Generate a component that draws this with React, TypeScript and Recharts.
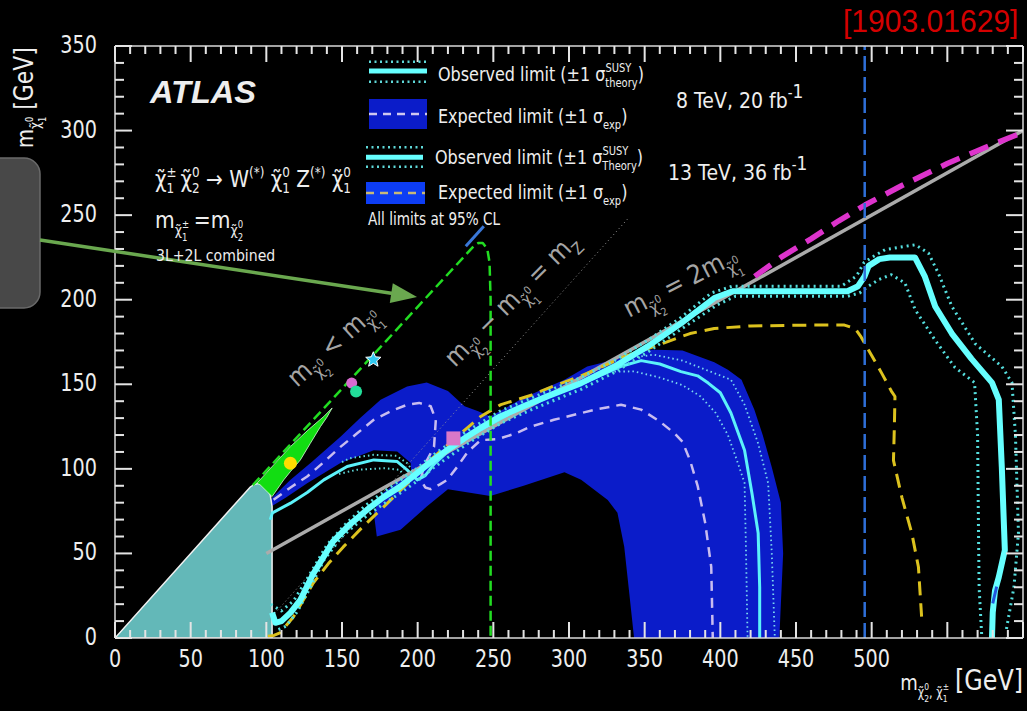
import React from 'react';
import { ComposedChart, XAxis, YAxis, Area, Line, Scatter } from 'recharts';

// axis ticks [GeV]
const xLabelTicks = [0, 50, 100, 150, 200, 250, 300, 350, 400, 450, 500];
const xMajorTicks = [0, 50, 100, 150, 200, 250, 300, 350, 400, 450, 500, 550, 600];
const xMinorTicks = [
  0, 10, 20, 30, 40, 50, 60, 70, 80, 90, 100, 110, 120, 130, 140, 150, 160, 170, 180, 190, 200,
  210, 220, 230, 240, 250, 260, 270, 280, 290, 300, 310, 320, 330, 340, 350, 360, 370, 380, 390,
  400, 410, 420, 430, 440, 450, 460, 470, 480, 490, 500, 510, 520, 530, 540, 550, 560, 570, 580,
  590, 600,
];
const yLabelTicks = [0, 50, 100, 150, 200, 250, 300, 350];
const yMinorTicks = [
  0, 10, 20, 30, 40, 50, 60, 70, 80, 90, 100, 110, 120, 130, 140, 150, 160, 170, 180, 190, 200,
  210, 220, 230, 240, 250, 260, 270, 280, 290, 300, 310, 320, 330, 340, 350,
];

// filled regions, points are [m(chi2/chi1+), m(chi1)]
const lepRegion = [
  [0, 0], [89.4, 89.3], [92, 90.8], [95, 91.5], [98.2, 89.5], [101, 87.5], [102.6, 84.6],
  [103.8, 77.7], [103.8, 0], [0, 0],
];
const greenRegion = [
  [103.8, 83.6], [96, 90.5], [93.8, 91.5], [105, 102.5], [116, 113.2], [127, 122.5], [138, 131],
  [143.5, 136], [140, 130.5], [135.8, 125], [129, 115], [122.5, 105.3], [116, 98.5], [111.5, 93.5],
  [103.8, 83.6],
];
const band8 = [
  [439, 0], [441.5, 50], [440, 80], [434, 101], [428, 120], [422.5, 135], [414, 152.7], [405, 158.6],
  [396, 163], [375, 170], [352, 170.5], [330, 164.5], [312, 160.5], [297, 152.7], [270, 142],
  [248, 131], [240, 134], [231, 137], [220, 146], [206, 151], [193, 148.7], [175.5, 140.8],
  [162, 130], [149, 119], [130, 104], [116, 93.5], [104, 83], [100, 76], [113, 83], [127, 91.5],
  [149, 103.4], [171, 111], [186.5, 110.3], [195.4, 103.4], [195.8, 97.4], [186, 92], [176, 85],
  [171, 74], [173, 60], [188.7, 64], [206, 77.7], [220, 88], [248, 84], [270, 90], [297, 98],
  [308, 93.5], [325.6, 81.6], [332, 74], [336.5, 54], [340, 25], [343, 0], [439, 0],
];

// 13 TeV contours
const obs13 = [
  [103.8, 15], [106, 9], [110, 10], [116, 15], [122.5, 22.5], [131, 38], [144, 57], [155, 67],
  [166.4, 75.7], [177, 83], [188.4, 89.5], [199, 97], [210.4, 105.3], [221, 112], [232.5, 119],
  [243, 125], [254.5, 131], [270, 137], [286, 143], [308, 150.7], [330, 160.5], [352, 172.4],
  [374, 186], [396, 201], [408, 205], [440, 205], [484, 205], [491, 208], [495.4, 214], [498, 220],
  [505, 224], [512, 225], [528.6, 225], [535, 214], [542, 196], [553, 180], [566, 165],
  [579.5, 151], [584, 141], [586, 101], [588, 52], [584, 36], [581.5, 28], [580, 15], [579.5, 0],
];
const obs13Up = [
  [103, 20], [110, 16], [118, 22], [127, 35], [140, 55], [152, 67], [165, 78], [177, 86], [188, 93],
  [199, 100], [210, 108], [221, 115], [232, 122], [243, 128], [254, 134], [270, 140], [286, 146],
  [308, 154], [330, 164], [352, 176], [374, 189.5], [394, 204], [408, 208], [440, 208], [480, 208],
  [490, 214], [495, 222], [500, 225], [508.8, 229.6], [528.8, 232.5], [537.5, 227.6], [544, 215.8],
  [553, 196], [568.4, 174], [586, 160.5], [592.7, 151], [595, 120], [597, 62], [594, 30], [589, 5],
];
const obs13Down = [
  [108, 5], [113, 7], [120, 15], [128, 28], [138, 46], [150, 60], [163, 70], [177, 79], [189, 86],
  [200, 93], [211, 101], [222, 108], [233, 115], [244, 121], [255, 127], [270, 133], [286, 139],
  [308, 147], [330, 157], [352, 169], [374, 182.5], [398, 197], [410, 202], [440, 202], [484, 202],
  [492, 204], [497.8, 208], [505, 212], [513, 214.8], [522, 209.9], [528.8, 194], [542, 176],
  [555, 160], [568, 151], [570, 120], [570.6, 62], [571, 30], [572.8, 0],
];
const exp13 = [
  [101, 1], [105, 1.5], [109, 3], [118, 12.6], [131, 32.5], [141, 44], [151, 54], [164, 66],
  [177.7, 77.7], [194, 92], [210.6, 107], [226, 119], [241.7, 131], [255, 138], [275, 143.5],
  [290, 149], [308, 155], [321, 160], [337, 166.5], [363, 174.5], [380, 180], [396, 183],
  [420, 184.5], [460, 185], [482, 185], [489, 183], [493, 178], [500, 167], [506.6, 156.6],
  [513, 146], [515.4, 142.8], [515, 125], [514.4, 105], [520, 83], [526.5, 62], [530.9, 42],
  [533, 12.6],
];

// 8 TeV contours
const obs8 = [
  [102.6, 70], [104, 74], [116, 79.7], [127, 86], [138, 93.5], [153.4, 101.4], [171, 105.3],
  [186.5, 104.3], [193, 99.4], [199.7, 93.5], [205, 96], [211, 103], [221, 111], [233, 118],
  [248, 126], [270, 136], [290, 144], [310, 151], [334, 160.5], [347.7, 164], [360, 162],
  [374, 157.5], [385, 155], [392, 150.7], [400, 145], [407, 133], [416, 111], [421, 85], [425, 62],
  [426, 30], [426, 0],
];
const obs8UpLeft = [[150, 104], [155.3, 106.3], [171, 108.3], [186, 107.7], [193, 103.4], [199, 96]];
const obs8DownLeft = [[148, 97], [160, 99.5], [177.7, 100.4], [188.4, 99.4], [191, 95.4], [195, 91]];
const obs8UpRight = [
  [336, 165], [356, 167.5], [375, 164], [392, 158], [407, 152.7], [416, 138], [425, 115],
  [431.6, 91.5], [434, 50], [436, 0],
];
const obs8DownRight = [
  [330, 157.5], [343, 157.6], [360, 154], [375, 149.5], [387, 142.8], [397, 133], [405, 120],
  [411, 105], [416, 91.7], [417, 50], [418, 0],
];
const exp8 = [
  [104.8, 81.7], [116, 89], [127, 95.5], [138, 104], [149, 113], [160, 121], [171, 129], [182, 134],
  [193, 137.9], [201, 139], [208.6, 137], [212, 129], [210.8, 113], [204, 101.4], [202, 93.5],
  [205, 89], [208.6, 88], [215, 91], [219.6, 93.5], [226, 101], [233, 110], [241.7, 117],
  [252.7, 117.5], [265, 121], [274.8, 125], [290, 129], [308, 133], [320, 135.5], [334.4, 137.9],
  [347.7, 135], [360, 128], [369.7, 121], [375, 116], [380, 105], [385, 90], [390, 68], [394, 42],
  [395, 0],
];

// kinematic / reference lines
const greenLimit = [
  [91, 90.3], [237, 231.6], [240, 233.5], [243, 233.5], [246, 230], [247.5, 222], [248.2, 200],
  [248.2, 0],
];
const halfLine = [[100, 50], [600, 300]];
const mzLine = [[95, 4], [339, 248]];
const magentaLimit = [
  [422.7, 213.8], [440, 225], [460, 236], [478, 246.5], [495.6, 256], [520, 267.5], [550, 280.5],
  [575, 290], [600, 299],
];
const blueVertical = [[495.4, 0], [495.4, 350]];
const blueTick1 = [[231.8, 231.6], [243.7, 243.4]];
const blueTick2 = [[580, 20.5], [582.6, 30.4]];

// other results
const starPt = [[170.7, 164.5]];
const magentaPt = [[156.4, 150.7]];
const tealPt = [[159.3, 145.7]];
const yellowPt = [[115.9, 103.3]];
const pinkPt = [[223.6, 118]];

const toPts = (a: number[][]) => a.map(([x, y]) => ({ x, y }));

// plot frame in pixels (matches the chart margins / axis sizes below)
const PLOT = { left: 115, right: 1023, top: 46, bottom: 638 };
const px = (x: number) => PLOT.left + ((PLOT.right - PLOT.left) * x) / 600;
const py = (y: number) => PLOT.bottom - ((PLOT.bottom - PLOT.top) * y) / 350;

const FRAME = '#d8d8d8';
const CHI = '\u03c7\u0303';
const W: Record<string, number> = { '0': 0.636, '1': 0.636, '2': 0.636, '±': 0.838 };

type Seg = [string, number, number, number?];

function Rich({ x, y, size, segs, rot = 0, sx = 0.8, fill = '#eeeeee', family = 'DejaVu Sans', weight = 'normal', italic = false, anchor = 'start' }: any) {
  let cur = 0;
  return (
    <g transform={`translate(${x} ${y}) rotate(${rot}) scale(${sx} 1)`}>
      <text
        x={0}
        y={0}
        fill={fill}
        fontSize={size}
        fontFamily={family}
        fontWeight={weight}
        fontStyle={italic ? 'italic' : 'normal'}
        textAnchor={anchor}
        xmlSpace="preserve"
        style={{ whiteSpace: 'pre' }}
      >
        {segs.map((s: Seg, i: number) => {
          const off = s[1] * size;
          const dy = off - cur;
          cur = off;
          return (
            <tspan key={i} dy={dy} dx={(s[3] || 0) * size} fontSize={s[2] * size}>
              {s[0]}
            </tspan>
          );
        })}
      </text>
    </g>
  );
}

const chi = (sup: string, sub: string): Seg[] => [
  [CHI, 0, 1],
  [sup, -0.42, 0.6],
  [sub, 0.28, 0.6, -W[sup] * 0.6],
];
const subChi = (sup: string, sub: string): Seg[] => [
  [CHI, 0.3, 0.62],
  [sup, 0.0, 0.42],
  [sub, 0.55, 0.42, -W[sup] * 0.42],
];

const XTick = (p: any) => (
  <g transform={`translate(${p.x} ${p.y + 29}) scale(0.8 1)`}>
    <text textAnchor="middle" fill="#eeeeee" fontSize={24} fontFamily="DejaVu Sans">
      {p.payload.value}
    </text>
  </g>
);
const YTick = (p: any) => (
  <g transform={`translate(${p.x - 18} ${p.y + 7}) scale(0.8 1)`}>
    <text textAnchor="end" fill="#eeeeee" fontSize={24} fontFamily="DejaVu Sans">
      {p.payload.value}
    </text>
  </g>
);

// ROOT style tick marks, inside the frame on all four sides
function FrameTicks() {
  const t = 2;
  const out: any[] = [];
  xMinorTicks.forEach((v) => {
    const l = xMajorTicks.includes(v) ? 16 : 8;
    const x = px(v) - t / 2;
    out.push(<rect key={`b${v}`} x={x} y={PLOT.bottom - l} width={t} height={l} fill="#e4e4e4" />);
    out.push(<rect key={`t${v}`} x={x} y={PLOT.top} width={t} height={l} fill="#e4e4e4" />);
  });
  yMinorTicks.forEach((v) => {
    const l = yLabelTicks.includes(v) ? 17 : 9;
    const y = py(v) - t / 2;
    out.push(<rect key={`l${v}`} x={PLOT.left} y={y} width={l} height={t} fill="#e4e4e4" />);
    out.push(<rect key={`r${v}`} x={PLOT.right - l} y={y} width={l} height={t} fill="#e4e4e4" />);
  });
  return <g>{out}</g>;
}

const circleShape = (fill: string, r: number) => (p: any) => (
  <circle cx={p.cx} cy={p.cy} r={r} fill={fill} />
);
const squareShape = (p: any) => (
  <rect x={p.cx - 7} y={p.cy - 7} width={14} height={14} fill="#d978c8" />
);
const starShape = (p: any) => {
  const pts: string[] = [];
  for (let i = 0; i < 10; i++) {
    const r = i % 2 === 0 ? 8 : 3.6;
    const a = -Math.PI / 2 + (i * Math.PI) / 5;
    pts.push(`${p.cx + r * Math.cos(a)},${p.cy + r * Math.sin(a)}`);
  }
  return <polygon points={pts.join(' ')} fill="#2ec8f0" stroke="#ffffff" strokeWidth={1} />;
};

const ax = { xAxisId: 'x', yAxisId: 'y', isAnimationActive: false } as const;

function Contour({ data, stroke, width, dash }: any) {
  return (
    <Line
      {...ax}
      data={toPts(data)}
      dataKey="y"
      type="linear"
      stroke={stroke}
      strokeWidth={width}
      strokeDasharray={dash}
      strokeLinejoin="round"
      dot={false}
      activeDot={false}
      legendType="none"
    />
  );
}

export default function App() {
  const frame = { stroke: FRAME, strokeWidth: 1.5 };
  return (
    <div style={{ position: 'absolute', left: 0, top: 0, width: 1027, height: 711, background: '#000', overflow: 'hidden' }}>
      <ComposedChart width={1027} height={711} margin={{ top: 16, right: 0, bottom: 0, left: 0 }}>
        <XAxis xAxisId="x" type="number" dataKey="x" domain={[0, 600]} allowDataOverflow ticks={xLabelTicks} interval={0} height={73} tickSize={0} tickMargin={0} tickLine={false} axisLine={frame} tick={XTick} />
        <XAxis xAxisId="xt" orientation="top" type="number" domain={[0, 600]} allowDataOverflow ticks={xMajorTicks} interval={0} height={30} tick={false} tickLine={false} axisLine={frame} />
        <YAxis yAxisId="y" type="number" dataKey="y" domain={[0, 350]} allowDataOverflow ticks={yLabelTicks} interval={0} width={115} tickSize={0} tickMargin={0} tickLine={false} axisLine={frame} tick={YTick} />
        <YAxis yAxisId="yr" orientation="right" type="number" domain={[0, 350]} allowDataOverflow ticks={yLabelTicks} interval={0} width={4} tick={false} tickLine={false} axisLine={frame} />

        <Area {...ax} data={toPts(band8)} dataKey="y" type="linear" fill="#0b1cc9" fillOpacity={1} stroke="none" dot={false} activeDot={false} />
        <Area {...ax} data={toPts(lepRegion)} dataKey="y" type="linear" fill="#63b8b8" fillOpacity={1} stroke="#f0f0f0" strokeWidth={1.5} dot={false} activeDot={false} />
        <Area {...ax} data={toPts(greenRegion)} dataKey="y" type="linear" fill="#12dd12" fillOpacity={1} stroke="#d0ffd0" strokeWidth={0.8} dot={false} activeDot={false} />

        {Contour({ data: mzLine, stroke: '#9a9a9a', width: 1, dash: '1 3' })}
        {Contour({ data: obs8UpLeft, stroke: '#5fd8d8', width: 2, dash: '1.5 3' })}
        {Contour({ data: obs8DownLeft, stroke: '#5fd8d8', width: 2, dash: '1.5 3' })}
        {Contour({ data: obs8UpRight, stroke: '#7ad8f0', width: 1.8, dash: '1.5 3' })}
        {Contour({ data: obs8DownRight, stroke: '#7ad8f0', width: 1.8, dash: '1.5 3' })}
        {Contour({ data: exp8, stroke: '#c8bcf0', width: 2.5, dash: '10 7' })}
        {Contour({ data: obs8, stroke: '#5cf2fa', width: 3 })}
        {Contour({ data: halfLine, stroke: '#ababab', width: 3.5 })}
        {Contour({ data: exp13, stroke: '#dcc21e', width: 3, dash: '14 8' })}
        {Contour({ data: obs13Up, stroke: '#55dede', width: 3, dash: '2 4' })}
        {Contour({ data: obs13Down, stroke: '#55dede', width: 3, dash: '2 4' })}
        {Contour({ data: obs13, stroke: '#66ffff', width: 6 })}
        {Contour({ data: magentaLimit, stroke: '#dd33cc', width: 5.5, dash: '20 11' })}
        {Contour({ data: blueVertical, stroke: '#2f6fd8', width: 2.5, dash: '15 6' })}
        {Contour({ data: greenLimit, stroke: '#22dd22', width: 2.5, dash: '10 5' })}
        {Contour({ data: blueTick1, stroke: '#3a78d8', width: 3 })}
        {Contour({ data: blueTick2, stroke: '#2255dd', width: 3 })}

        <Scatter {...ax} data={toPts(yellowPt)} dataKey="y" shape={circleShape('#ffdd00', 6.5)} />
        <Scatter {...ax} data={toPts(magentaPt)} dataKey="y" shape={circleShape('#d86ad0', 5.5)} />
        <Scatter {...ax} data={toPts(tealPt)} dataKey="y" shape={circleShape('#22dd99', 6)} />
        <Scatter {...ax} data={toPts(pinkPt)} dataKey="y" shape={squareShape} />
        <Scatter {...ax} data={toPts(starPt)} dataKey="y" shape={starShape} />
      </ComposedChart>

      <svg width={1027} height={711} style={{ position: 'absolute', left: 0, top: 0, pointerEvents: 'none' }}>
        <FrameTicks />

        {/* slide annotation */}
        <rect x={-20} y={158} width={60} height={150} rx={16} fill="#484848" stroke="#6a6a6a" strokeWidth={1.5} />
        <line x1={40} y1={240} x2={393} y2={293.5} stroke="#6aa84f" strokeWidth={3.5} />
        <polygon points="417,297 389.8,303 392.8,283.2" fill="#6aa84f" />

        <Rich x={843} y={32} size={31} sx={0.97} family="Liberation Sans" fill="#d40000" segs={[['[1903.01629]', 0, 1]]} />

        <Rich x={33} y={148} rot={-90} size={23} sx={0.85} segs={[['m', 0, 1], ...subChi('0', '1'), [' [GeV]', 0, 1.12]]} />
        <Rich x={1023} y={690} size={22} sx={0.82} anchor="end" segs={[['m', 0, 1], [CHI, 0.3, 0.62], ['0', 0, 0.42], ['2', 0.55, 0.42, -0.267], [', ', 0.3, 0.62], [CHI, 0.3, 0.62], ['±', 0, 0.42], ['1', 0.55, 0.42, -0.352], [' [GeV]', 0, 1.32]]} />

        <Rich x={150} y={103} size={31} sx={1.05} family="Liberation Sans" weight="bold" italic segs={[['ATLAS', 0, 1]]} />
        <Rich x={155} y={187} size={23} sx={0.87} segs={[...chi('±', '1'), [' ', 0, 1], ...chi('0', '2'), [' → W', 0, 1], ['(*)', -0.42, 0.6], [' ', 0, 1], ...chi('0', '1'), [' Z', 0, 1], ['(*)', -0.42, 0.6], [' ', 0, 1], ...chi('0', '1')]} />
        <Rich x={155} y={228} size={23} sx={0.88} segs={[['m', 0, 1], ...subChi('±', '1'), [' =m', 0, 1], ...subChi('0', '2')]} />
        <Rich x={156} y={261} size={16} sx={0.88} segs={[['3L+2L combined', 0, 1]]} />

        {/* legend, 8 TeV */}
        <line x1={369} y1={61.7} x2={427} y2={61.7} stroke="#5fd8d8" strokeWidth={2.5} strokeDasharray="2 3.5" />
        <line x1={369} y1={71} x2={427} y2={71} stroke="#66ffff" strokeWidth={5} />
        <line x1={369} y1={81.7} x2={427} y2={81.7} stroke="#5fd8d8" strokeWidth={2.5} strokeDasharray="2 3.5" />
        <Rich x={438} y={81} size={20} sx={0.8} segs={[['Observed limit (±1 σ', 0, 1], ['SUSY', -0.45, 0.62], ['theory', 0.32, 0.62, -1.62], [')', 0, 1]]} />
        <rect x={369} y={99} width={58} height={30} fill="#0b1cc9" />
        <line x1={369} y1={114} x2={427} y2={114} stroke="#d0c8f0" strokeWidth={2.5} strokeDasharray="8 6" />
        <Rich x={438} y={123} size={20} sx={0.8} segs={[['Expected limit (±1 σ', 0, 1], ['exp', 0.3, 0.62], [')', 0, 1]]} />
        <Rich x={676} y={108} size={22} sx={0.86} segs={[['8 TeV, 20 fb', 0, 1], ['-', -0.45, 0.7], ['1', -0.45, 0.9]]} />

        {/* legend, 13 TeV */}
        <line x1={366} y1={147.3} x2={423} y2={147.3} stroke="#5fd8d8" strokeWidth={2.5} strokeDasharray="2 3.5" />
        <line x1={366} y1={157.3} x2={423} y2={157.3} stroke="#66ffff" strokeWidth={5} />
        <line x1={366} y1={166.7} x2={423} y2={166.7} stroke="#5fd8d8" strokeWidth={2.5} strokeDasharray="2 3.5" />
        <Rich x={435} y={164} size={20} sx={0.8} segs={[['Observed limit (±1 σ', 0, 1], ['SUSY', -0.45, 0.62], ['Theory', 0.32, 0.62, -1.62], [')', 0, 1]]} />
        <rect x={366} y={182} width={59} height={22} fill="#0d3df5" />
        <line x1={366} y1={193} x2={425} y2={193} stroke="#c8b878" strokeWidth={2.5} strokeDasharray="8 6" />
        <Rich x={438} y={199} size={20} sx={0.8} segs={[['Expected limit (±1 σ', 0, 1], ['exp', 0.3, 0.62], [')', 0, 1]]} />
        <Rich x={668} y={180} size={22} sx={0.86} segs={[['13 TeV, 36 fb', 0, 1], ['-', -0.45, 0.7], ['1', -0.45, 0.9]]} />
        <Rich x={368} y={225} size={17} sx={0.8} segs={[['All limits at 95% CL', 0, 1]]} />

        {/* kinematic labels */}
        <Rich x={297} y={388} rot={-42} size={26} sx={0.9} fill="#a5a5a5" segs={[['m', 0, 1], ...subChi('0', '2'), [' < m', 0, 1], ...subChi('0', '1')]} />
        <Rich x={455} y={368} rot={-45} size={26} sx={0.9} fill="#a5a5a5" segs={[['m', 0, 1], ...subChi('0', '2'), [' − m', 0, 1], ...subChi('0', '1'), [' = m', 0, 1], ['Z', 0.3, 0.62]]} />
        <Rich x={629} y={318} rot={-27} size={26} sx={0.9} fill="#a5a5a5" segs={[['m', 0, 1], ...subChi('0', '2'), [' = 2m', 0, 1], ...subChi('0', '1')]} />
      </svg>
    </div>
  );
}
